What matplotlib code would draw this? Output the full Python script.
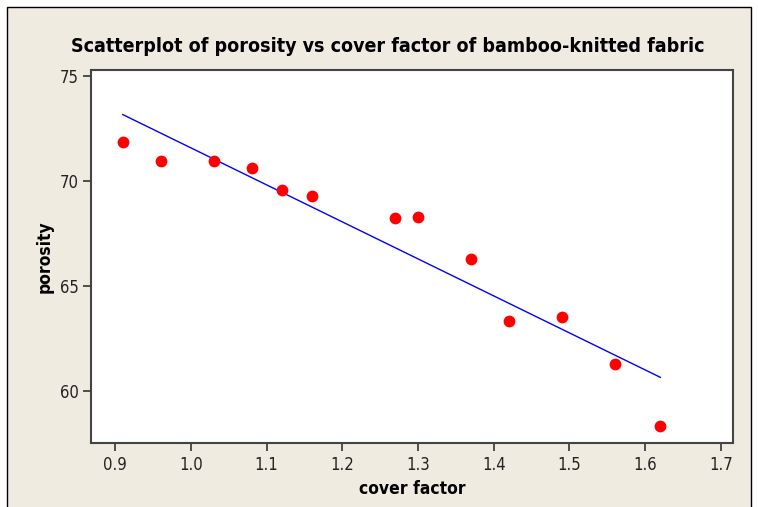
import numpy as np
import matplotlib.pyplot as plt
from matplotlib.patches import Rectangle

# cover factor vs porosity of bamboo-knitted fabric
cover_factor = [0.91, 0.96, 1.03, 1.08, 1.12, 1.16, 1.27, 1.30, 1.37, 1.42, 1.49, 1.56, 1.62]
porosity = [71.86, 70.95, 70.95, 70.62, 69.57, 69.29, 68.24, 68.29, 66.29, 63.33, 63.52, 61.29, 58.33]

x_ticks = [0.9, 1.0, 1.1, 1.2, 1.3, 1.4, 1.5, 1.6, 1.7]
y_ticks = [60, 65, 70, 75]

plt.rcParams['font.family'] = ['DejaVu Sans']
plt.rcParams['font.stretch'] = 'condensed'

W, H = 758, 507
fig = plt.figure(figsize=(W / 100, H / 100), dpi=100, facecolor='white')

# beige background panel with thin frame (Minitab style)
bg = Rectangle((7 / W, -0.01), (751 - 7) / W, 1 - 7 / H + 0.01,
               transform=fig.transFigure, facecolor='#EFEBE1',
               edgecolor='black', linewidth=1.0, zorder=-10)
fig.patches.append(bg)

ax = fig.add_axes([91 / W, 1 - 443 / H, (733 - 91) / W, (443 - 70) / H])
ax.set_zorder(5)
ax.set_facecolor('white')

# least squares fit line
slope, icept = np.polyfit(cover_factor, porosity, 1)
xl = np.array([min(cover_factor), max(cover_factor)])
ax.plot(xl, icept + slope * xl, color='#0000FF', linewidth=1.0, zorder=2)

ax.scatter(cover_factor, porosity, s=72, color='#FF0000', zorder=3, linewidths=0)

ax.set_xlim(0.868, 1.716)
ax.set_ylim(57.52, 75.29)
ax.set_xticks(x_ticks)
ax.set_xticklabels([f'{t:.1f}' for t in x_ticks])
ax.set_yticks(y_ticks)
ax.tick_params(direction='out', length=6, width=1.2, color='#333333', labelsize=12,
               labelcolor='#222222', pad=3)

for sp in ax.spines.values():
    sp.set_color('#444444')
    sp.set_linewidth(1.5)

ax.set_xlabel('cover factor', fontsize=12.5, fontweight='bold', labelpad=5)
ax.set_ylabel('porosity', fontsize=12.5, fontweight='bold', labelpad=4)
fig.text(388 / W, 1 - 46 / H, 'Scatterplot of porosity vs cover factor of bamboo-knitted fabric',
         ha='center', va='center', fontsize=14, fontweight='bold')

fig.savefig('out.png', dpi=100, facecolor=fig.get_facecolor())
